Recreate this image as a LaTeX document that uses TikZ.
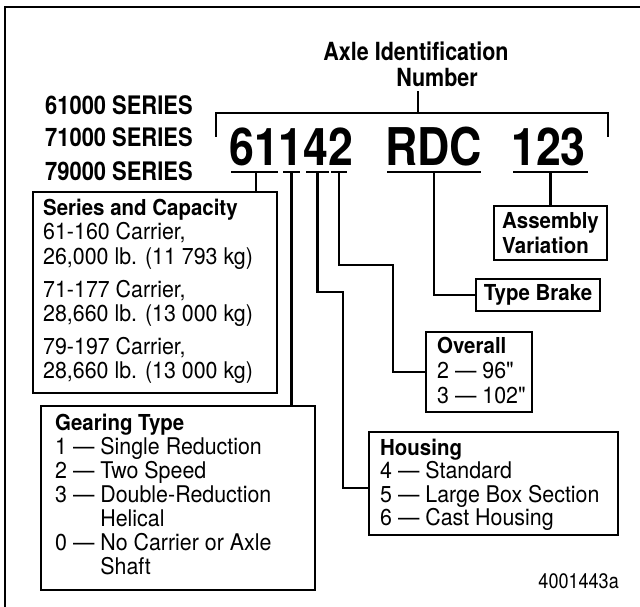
\documentclass[tikz,border=0pt]{standalone}
\usepackage{fontspec}
\setmainfont{TeX Gyre Heros}
\newfontfamily\txfont[FakeStretch=0.93]{TeX Gyre Heros}
\newfontfamily\cnfont[FakeStretch=0.86]{TeX Gyre Heros}
\usetikzlibrary{calc}
\begin{document}
\begin{tikzpicture}[x=1pt,y=-1pt,
  ln/.style={line width=2.4pt},
  box/.style={draw, line width=2.4pt, inner sep=0pt, outer sep=0pt, anchor=north west},
  bxf/.style={font=\fontsize{22}{25}\txfont\bfseries},
  tx/.style={anchor=base west, inner sep=0pt, font=\fontsize{23}{24}\txfont},
  bt/.style={anchor=base west, inner sep=0pt, font=\fontsize{22}{24}\txfont\bfseries},
  big/.style={anchor=base west, inner sep=0pt, font=\fontsize{52}{52}\cnfont\bfseries},
  lab/.style={anchor=base west, inner sep=0pt, font=\fontsize{25.5}{26}\cnfont\bfseries},
  ttl/.style={anchor=base, inner sep=0pt, font=\fontsize{25}{26}\cnfont\bfseries}]
\useasboundingbox (0,0) rectangle (640,607);
% outer frame
\draw[line width=2.6pt] (5,607) -- (5,7) -- (640,7);
% title
\node[ttl] (t1) at (416,61) {Axle Identification};
\node[ttl] (t2) at (437,87) {Number};
% series labels
\node[lab] (s1) at (45,115) {61000 SERIES};
\node[lab] (s2) at (45,147) {71000 SERIES};
\node[lab] (s3) at (45,180) {79000 SERIES};
% big number
\node[big] (n1) at (229,165) {61142};
\node[big] (n2) at (385,165) {RDC};
\node[big] (n3) at (511,165) {123};
% bracket
\coordinate (bl) at (216,137);
\coordinate (br) at (608,137);
\coordinate (bt) at (418,113);
\draw[ln] (bl) -- (bl |- bt) -- (br |- bt) -- (br);
\draw[ln] (bt) -- (bt |- 0,91);
% underlines
\foreach \a/\b/\n in {231/278/1, 283/300/2, 306/329/3, 331/347/4, 387/481/5, 513/588/6}{
  \draw[ln] (\a,172) -- (\b,172);
  \coordinate (u\n) at ({(\a+\b)/2},172);
}
% boxes
\node[box, minimum width=244, minimum height=201] (series) at (33,192) {};
\node[box, minimum width=274, minimum height=184] (gearing) at (41,406) {};
\node[box, minimum width=249, minimum height=103] (housing) at (369,432) {};
\node[box, minimum width=106, minimum height=80] (overall) at (426,332) {};
\node[box, bxf, minimum width=124, minimum height=32] (brake) at (476,279) {Type Brake};
\node[box, bxf, align=left, minimum width=113, minimum height=54] (assembly) at (494,206) {Assembly\\Variation};
% connectors
\coordinate (j3) at (343,292);
\coordinate (j4) at (393,265);
\draw[ln] (256,172) -- (256,172 |- series.north);
\draw[ln] (u2) -- (u2 |- gearing.north);
\draw[ln] (u3) |- (j3) |- ($(housing.north west)+(0,56)$);
\draw[ln] (u4) |- (j4) |- (overall.west);
\draw[ln] (u5) |- (brake.west);
\draw[ln] (u6) -- (u6 |- assembly.north);
% series text
\node[bt] (sc0) at (43,215) {Series and Capacity};
\node[tx] (sc1) at (43,239.5) {61-160 Carrier,};
\node[tx] (sc2) at (43,264) {26,000 lb. (11 793 kg)};
\node[tx] (sc3) at (43,297) {71-177 Carrier,};
\node[tx] (sc4) at (43,321.5) {28,660 lb. (13 000 kg)};
\node[tx] (sc5) at (43,354) {79-197 Carrier,};
\node[tx] (sc6) at (43,378.5) {28,660 lb. (13 000 kg)};
% gearing text
\node[bt] (g0) at (55,430) {Gearing Type};
\node[tx] (g1) at (55,454) {1 — Single Reduction};
\node[tx] (g2) at (55,478) {2 — Two Speed};
\node[tx] (g3) at (55,502) {3 — Double-Reduction};
\node[tx] (g4) at (55,526) {\phantom{3 — }Helical};
\node[tx] (g5) at (55,550) {0 — No Carrier or Axle};
\node[tx] (g6) at (55,574) {\phantom{0 — }Shaft};
% housing text
\node[bt] (h0) at (380,455) {Housing};
\node[tx] (h1) at (380,478.5) {4 — Standard};
\node[tx] (h2) at (380,502) {5 — Large Box Section};
\node[tx] (h3) at (380,525.5) {6 — Cast Housing};
% overall text
\node[bt] (o0) at (437,353) {Overall};
\node[tx] (o1) at (437,378) {2 — 96"};
\node[tx] (o2) at (437,403) {3 — 102"};
% figure code
\node[anchor=base east, inner sep=0pt, font=\fontsize{21}{24}\cnfont] (code) at (619,588) {4001443a};
\end{tikzpicture}
\end{document}
